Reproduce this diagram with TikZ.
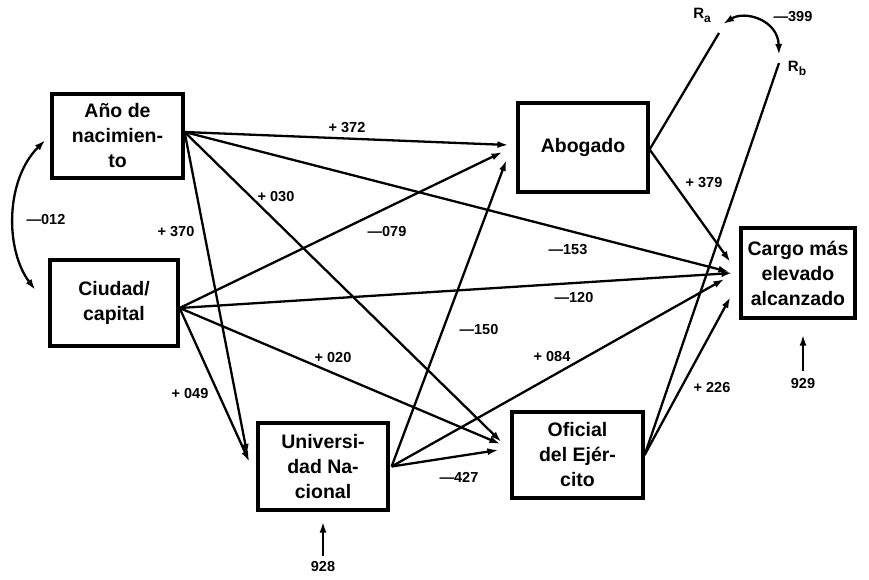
\documentclass[tikz,border=0pt]{standalone}
\usepackage{fontspec}
\setmainfont{Liberation Sans}
\usetikzlibrary{arrows.meta}
\tikzset{
    var_box/.style={draw,line width=3.2pt,minimum width=130pt,minimum height=86pt,align=center,inner sep=2pt,font=\bfseries\fontsize{19.5}{25}\selectfont},
    path_arrow/.style={-{Latex[length=11pt,width=7pt]},line width=2.3pt},
    path_both/.style={{Latex[length=11pt,width=7pt]}-{Latex[length=11pt,width=7pt]},line width=2.3pt},
    path_line/.style={line width=2.3pt},
    coef/.style={font=\bfseries\fontsize{14.5}{14.5}\selectfont,inner sep=1pt},
    resid/.style={font=\bfseries\fontsize{15}{15}\selectfont,inner sep=1pt},
}
\newcommand{\resname}[1]{R\raisebox{-4pt}{\fontsize{12}{12}\selectfont #1}}

\begin{document}
\begin{tikzpicture}[x=1pt,y=-1pt]
  \useasboundingbox (0,0) rectangle (869,579);
  % variables
  \node[var_box,minimum width=131pt,minimum height=84pt] (ano) at (117.5,136) {Año de\\nacimien-\\to};
  \node[var_box,minimum width=128pt] (ciudad) at (114,303) {Ciudad/\\capital};
  \node[var_box,minimum height=89pt] (abogado) at (583,147.5) {Abogado};
  \node[var_box,minimum width=114pt,minimum height=90pt] (cargo) at (798,273) {Cargo más\\elevado\\alcanzado};
  \node[var_box,minimum height=87pt] (univ) at (323,466.5) {Universi-\\dad Na-\\cional};
  \node[var_box,minimum width=131pt] (oficial) at (577.5,455) {Oficial\\del Ejér-\\cito};
  % residuals
  \node[resid] (ra) at (702,15) {\resname{a}};
  \node[resid] (rb) at (797,68) {\resname{b}};
  \coordinate (ra_e) at (723,24);
  \coordinate (rb_e) at (779,55);
  \coordinate (ra_l) at (719,33);
  \coordinate (rb_l) at (779,63);
  \coordinate (ano_l) at ([xshift=-5pt,yshift=-4pt]ano.west);
  \coordinate (ciu_l) at ([xshift=-13pt,yshift=13pt]ciudad.west);
  % out points
  \coordinate (ano_o) at ([yshift=4pt]ano.east);
  \coordinate (ciu_o) at ([yshift=-5pt]ciudad.east);
  \coordinate (uni_o) at ([xshift=2pt]univ.east);
  \coordinate (abo_o) at ([yshift=-2pt]abogado.east);
  % paths
  \draw[path_arrow] (ano_o) -- ([xshift=-8pt,yshift=2.5pt]abogado.west);
  \draw[path_arrow] (ano_o) -- ([xshift=-10pt,yshift=1pt]cargo.west);
  \draw[path_arrow] (ano_o) -- ([xshift=-9pt,yshift=13pt]oficial.west);
  \draw[path_arrow] (ano_o) -- ([xshift=-9pt,yshift=11.5pt]univ.west);
  \draw[path_arrow] (ciu_o) -- ([xshift=-14pt,yshift=-4.5pt]abogado.west);
  \draw[path_arrow] (ciu_o) -- ([xshift=-7pt]cargo.west);
  \draw[path_arrow] (ciu_o) -- ([xshift=-10pt,yshift=11pt]oficial.west);
  \draw[path_arrow] (ciu_o) -- ([xshift=-7pt,yshift=4.5pt]univ.west);
  \draw[path_arrow] (uni_o) -- ([xshift=-10pt,yshift=-12.5pt]abogado.west);
  \draw[path_arrow] (uni_o) -- ([xshift=-15pt,yshift=-6pt]cargo.west);
  \draw[path_arrow] (uni_o) -- ([xshift=-12pt,yshift=5pt]oficial.west);
  \draw[path_arrow] (abo_o) -- ([xshift=-9pt,yshift=11pt]cargo.west);
  \draw[path_arrow] (oficial.east) -- ([xshift=-9pt,yshift=-24pt]cargo.west);
  \draw[path_line] (ra_l) -- (abo_o);
  \draw[path_line] (rb_l) -- (oficial.east);
  \draw[path_both] (ra_e) .. controls (745,10) and (778,20) .. (rb_e);
  \draw[path_both] (ano_l) .. controls (5,180) and (5,250) .. (ciu_l);
  % coefficients
  \node[coef] (c372) at (347,128) {+ 372};
  \node[coef] (c153) at (568,250) {---153};
  \node[coef] (c030) at (276,197) {+ 030};
  \node[coef] (c370) at (176,232) {+ 370};
  \node[coef] (c079) at (387,232) {---079};
  \node[coef] (c120) at (574,298) {---120};
  \node[coef] (c020) at (333,357) {+ 020};
  \node[coef] (c049) at (190,393) {+ 049};
  \node[coef] (c150) at (479,330) {---150};
  \node[coef] (c084) at (552,356) {+ 084};
  \node[coef] (c427) at (459,477) {---427};
  \node[coef] (c379) at (704,183) {+ 379};
  \node[coef] (c226) at (712,387) {+ 226};
  \node[coef] (c012) at (46,220) {---012};
  \node[coef] (c399) at (793,17) {---399};
  % error terms
  \node[coef] (e928) at (323,566) {928};
  \node[coef] (e929) at (803,383) {929};
  \draw[path_arrow] ([yshift=4pt]e928.north) -- ([yshift=-10pt]univ.south);
  \draw[path_arrow] ([yshift=6pt]e929.north) -- ([xshift=5pt,yshift=-15pt]cargo.south);
\end{tikzpicture}
\end{document}
